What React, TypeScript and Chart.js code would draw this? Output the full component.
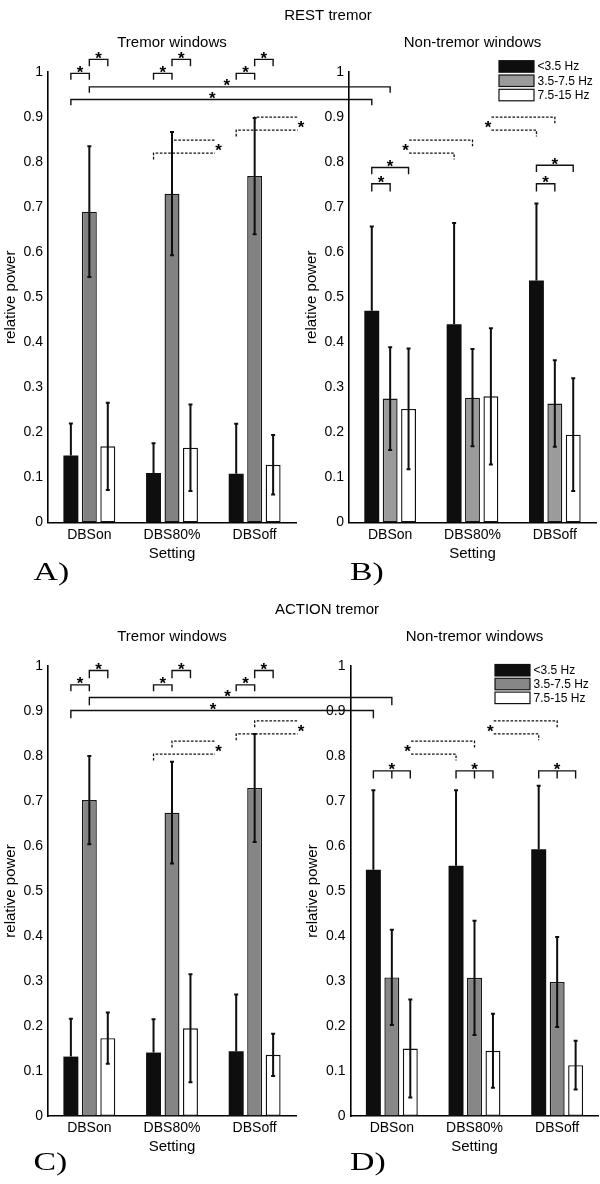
import React, { useEffect, useRef } from "react";
import { Chart, registerables } from "chart.js";

Chart.register(...registerables);

const FONT = '"Liberation Sans", Arial, Helvetica, sans-serif';
const SERIF = '"Liberation Serif", "Times New Roman", serif';

// ---------------- data ----------------
const categories = ["DBSon", "DBS80%", "DBSoff"];
const bandLabels = ["<3.5 Hz", "3.5-7.5 Hz", "7.5-15 Hz"];
const yTickValues = [0, 0.1, 0.2, 0.3, 0.4, 0.5, 0.6, 0.7, 0.8, 0.9, 1];
const yTickLabels = ["0", "0.1", "0.2", "0.3", "0.4", "0.5", "0.6", "0.7", "0.8", "0.9", "1"];

// A) REST tremor - tremor windows
const restTremorLow = [0.149, 0.11, 0.108];
const restTremorLowSd = [0.071, 0.066, 0.111];
const restTremorMid = [0.69, 0.73, 0.769];
const restTremorMidSd = [0.145, 0.137, 0.129];
const restTremorHigh = [0.169, 0.166, 0.128];
const restTremorHighSd = [0.097, 0.096, 0.066];

// B) REST tremor - non-tremor windows
const restNonTremorLow = [0.47, 0.44, 0.537];
const restNonTremorLowSd = [0.187, 0.225, 0.171];
const restNonTremorMid = [0.275, 0.277, 0.264];
const restNonTremorMidSd = [0.114, 0.108, 0.096];
const restNonTremorHigh = [0.252, 0.28, 0.195];
const restNonTremorHighSd = [0.134, 0.151, 0.125];

// C) ACTION tremor - tremor windows
const actionTremorLow = [0.132, 0.141, 0.144];
const actionTremorLowSd = [0.084, 0.074, 0.126];
const actionTremorMid = [0.702, 0.674, 0.729];
const actionTremorMidSd = [0.098, 0.113, 0.12];
const actionTremorHigh = [0.173, 0.195, 0.136];
const actionTremorHighSd = [0.057, 0.12, 0.047];

// D) ACTION tremor - non-tremor windows
const actionNonTremorLow = [0.547, 0.556, 0.593];
const actionNonTremorLowSd = [0.177, 0.168, 0.141];
const actionNonTremorMid = [0.308, 0.307, 0.298];
const actionNonTremorMidSd = [0.106, 0.127, 0.1];
const actionNonTremorHigh = [0.15, 0.145, 0.113];
const actionNonTremorHighSd = [0.109, 0.082, 0.054];

// significance markers (side 0 = left panel, 1 = right panel; ds = band; cat = setting)
const L = (ds: number, cat: number) => ({ side: 0, ds, cat });
const R = (ds: number, cat: number) => ({ side: 1, ds, cat });

const restSig: any[] = [
  ...[0, 1, 2].flatMap((c) => [
    { kind: "bracket", a: L(0, c), b: L(1, c), top: 0.997, drop: 0.983 },
    { kind: "bracket", a: L(1, c), b: L(2, c), top: 1.028, drop: 1.013 },
  ]),
  { kind: "bracket", a: L(1, 0), b: R(1, 0), top: 0.967, drop: 0.954, starDx: -13 },
  { kind: "bracket", a: L(0, 0), b: R(0, 0), top: 0.939, drop: 0.926, starDx: -9 },
  { kind: "bracket", a: R(0, 0), b: R(1, 0), top: 0.752, drop: 0.735 },
  { kind: "bracket", a: R(0, 0), b: R(2, 0), top: 0.788, drop: 0.773 },
  { kind: "bracket", a: R(0, 2), b: R(1, 2), top: 0.752, drop: 0.735 },
  { kind: "bracket", a: R(0, 2), b: R(2, 2), top: 0.793, drop: 0.778 },
  { kind: "broken", cat: 1, upper: 0.849, lower: 0.82 },
  { kind: "broken", cat: 2, upper: 0.9, lower: 0.871 },
];

const actionSig: any[] = [
  ...[0, 1, 2].flatMap((c) => [
    { kind: "bracket", a: L(0, c), b: L(1, c), top: 0.958, drop: 0.944 },
    { kind: "bracket", a: L(1, c), b: L(2, c), top: 0.99, drop: 0.973 },
  ]),
  { kind: "bracket", a: L(1, 0), b: R(1, 0), top: 0.93, drop: 0.913, starDx: -13 },
  { kind: "bracket", a: L(0, 0), b: R(0, 0), top: 0.901, drop: 0.884, starDx: -9 },
  ...[0, 1, 2].map((c) => ({ kind: "bracket", a: R(0, c), mid: R(1, c), b: R(2, c), top: 0.767, drop: 0.75 })),
  { kind: "broken", cat: 1, upper: 0.833, lower: 0.804 },
  { kind: "broken", cat: 2, upper: 0.878, lower: 0.849 },
];

// ---------------- drawing helpers ----------------
function drawStar(ctx: CanvasRenderingContext2D, x: number, y: number) {
  ctx.save();
  ctx.fillStyle = "#000";
  ctx.font = `bold 17px ${FONT}`;
  ctx.textAlign = "center";
  ctx.textBaseline = "alphabetic";
  ctx.fillText("*", x, y + 9.8);
  ctx.restore();
}

function drawSignificance(chart: any, partner: any, sig: any[]) {
  const ctx: CanvasRenderingContext2D = chart.ctx;
  const ys = chart.scales.y;
  const py = (v: number) => ys.getPixelForValue(v);
  const px = (r: any) => {
    const c = r.side === 0 ? partner : chart;
    return c.getDatasetMeta(r.ds).data[r.cat].x;
  };
  ctx.save();
  ctx.lineCap = "butt";
  for (const s of sig) {
    if (s.kind === "bracket") {
      const xa = px(s.a);
      const xb = px(s.b);
      const yt = py(s.top);
      const yd = py(s.drop);
      ctx.strokeStyle = "#111";
      ctx.lineWidth = 1.4;
      ctx.setLineDash([]);
      ctx.beginPath();
      ctx.moveTo(xa, yd);
      ctx.lineTo(xa, yt);
      ctx.lineTo(xb, yt);
      ctx.lineTo(xb, yd);
      if (s.mid) {
        const xm = px(s.mid);
        ctx.moveTo(xm, yt);
        ctx.lineTo(xm, yd);
      }
      ctx.stroke();
      const sx = s.mid ? px(s.mid) : (xa + xb) / 2 + (s.starDx || 0);
      drawStar(ctx, sx, yt - 5.5);
    } else if (s.kind === "broken") {
      const lGray = partner.getDatasetMeta(1).data[s.cat].x;
      const lBlack = partner.getDatasetMeta(0).data[s.cat].x;
      const rGray = chart.getDatasetMeta(1).data[s.cat].x;
      const rBlack = chart.getDatasetMeta(0).data[s.cat].x;
      const endA = lGray + 43;
      const startB = rBlack - 45;
      const yu = py(s.upper);
      const yl = py(s.lower);
      const leg = 6.3;
      ctx.strokeStyle = "#111";
      ctx.lineWidth = 1.3;
      ctx.setLineDash([2.6, 1.6]);
      ctx.beginPath();
      // left panel parts
      ctx.moveTo(lGray, yu + leg);
      ctx.lineTo(lGray, yu);
      ctx.lineTo(endA, yu);
      ctx.moveTo(lBlack, yl + leg);
      ctx.lineTo(lBlack, yl);
      ctx.lineTo(endA, yl);
      // right panel parts
      ctx.moveTo(startB, yu);
      ctx.lineTo(rGray, yu);
      ctx.lineTo(rGray, yu + leg);
      ctx.moveTo(startB, yl);
      ctx.lineTo(rBlack, yl);
      ctx.lineTo(rBlack, yl + leg);
      ctx.stroke();
      ctx.setLineDash([]);
      drawStar(ctx, endA + 3.5, (yu + yl) / 2);
      drawStar(ctx, startB - 3.5, (yu + yl) / 2);
    }
  }
  ctx.restore();
}

function buildConfig(p: any, partner: any, sig: any[] | null) {
  const colors = ["#0e0e0e", p.gray, "#ffffff"];
  const borders = ["#0e0e0e", "#151515", "#111111"];
  const borderWidths = [0, 1.4, 1.4];
  const datasets = p.means.map((m: number[], i: number) => ({
    label: bandLabels[i],
    data: m,
    errors: p.sds[i],
    backgroundColor: colors[i],
    borderColor: borders[i],
    borderWidth: borderWidths[i],
    borderSkipped: false,
    categoryPercentage: 0.67,
    barPercentage: 0.81,
  }));

  const decor = {
    id: "decor",
    afterDatasetsDraw(chart: any) {
      const ctx: CanvasRenderingContext2D = chart.ctx;
      const ys = chart.scales.y;
      ctx.save();
      ctx.strokeStyle = "#0e0e0e";
      ctx.lineWidth = 2;
      chart.data.datasets.forEach((ds: any, i: number) => {
        const meta = chart.getDatasetMeta(i);
        meta.data.forEach((bar: any, j: number) => {
          const m = ds.data[j];
          const e = ds.errors[j];
          const x = bar.x;
          const yHi = ys.getPixelForValue(m + e);
          // the lower half of the black bars' error bar is hidden inside the bar
          const yLo = i === 0 ? ys.getPixelForValue(m) : ys.getPixelForValue(m - e);
          ctx.beginPath();
          ctx.moveTo(x, yLo);
          ctx.lineTo(x, yHi);
          ctx.moveTo(x - 2, yHi);
          ctx.lineTo(x + 2, yHi);
          if (i !== 0) {
            ctx.moveTo(x - 2, yLo);
            ctx.lineTo(x + 2, yLo);
          }
          ctx.stroke();
        });
      });
      ctx.restore();
    },
    afterDraw(chart: any) {
      const ctx: CanvasRenderingContext2D = chart.ctx;
      const area = chart.chartArea;
      ctx.save();
      ctx.fillStyle = "#000";
      // panel title
      ctx.font = `15px ${FONT}`;
      ctx.textAlign = "center";
      ctx.textBaseline = "alphabetic";
      ctx.fillText(p.title, (area.left + area.right) / 2, p.titleBaseline);
      // figure title
      if (p.figTitle) {
        ctx.fillText(p.figTitle, p.figTitleX, p.figTitleBaseline);
      }
      // panel letter
      ctx.save();
      ctx.translate(p.letterX, p.letterBaseline);
      ctx.scale(1.3, 1);
      ctx.font = `26px ${SERIF}`;
      ctx.textAlign = "left";
      ctx.fillText(p.letter, 0, 0);
      ctx.restore();
      // legend
      if (p.legend) {
        const { x, y, step } = p.legend;
        ctx.font = `12px ${FONT}`;
        ctx.textAlign = "left";
        ctx.textBaseline = "middle";
        chart.data.datasets.forEach((ds: any, i: number) => {
          const ty = y + i * step;
          ctx.fillStyle = ds.backgroundColor;
          ctx.fillRect(x, ty, 35, 11.5);
          ctx.strokeStyle = "#111";
          ctx.lineWidth = 1.2;
          ctx.strokeRect(x, ty, 35, 11.5);
          ctx.fillStyle = "#000";
          ctx.fillText(ds.label, x + 38.5, ty + 6.2);
        });
      }
      ctx.restore();
      if (sig && partner) drawSignificance(chart, partner, sig);
    },
  };

  return {
    type: "bar",
    data: { labels: categories, datasets },
    options: {
      responsive: false,
      animation: false,
      events: [],
      layout: { padding: { left: p.padLeft, right: p.padRight, top: 72, bottom: p.padBottom } },
      plugins: {
        legend: { display: false },
        title: { display: false },
        tooltip: { enabled: false },
      },
      scales: {
        x: {
          grid: { display: false, drawTicks: false, tickLength: 0 },
          border: { display: true, color: "#000", width: 1.6 },
          ticks: { color: "#000", font: { family: FONT, size: 14 }, padding: 4, maxRotation: 0, autoSkip: false },
          title: {
            display: true,
            text: "Setting",
            color: "#000",
            font: { family: FONT, size: 15 },
            padding: { top: 0, bottom: 10 },
          },
          afterFit: (s: any) => {
            s.height = 50;
          },
        },
        y: {
          min: 0,
          max: 1,
          grid: { display: false, drawTicks: false, tickLength: 0 },
          border: { display: true, color: "#000", width: 1.6 },
          afterBuildTicks: (s: any) => {
            s.ticks = yTickValues.map((v) => ({ value: v }));
          },
          ticks: {
            color: "#000",
            font: { family: FONT, size: 14 },
            padding: 5,
            callback: (v: any) => {
              const k = yTickValues.indexOf(Number(v));
              return k >= 0 ? yTickLabels[k] : "";
            },
          },
          title: {
            display: true,
            text: "relative power",
            color: "#000",
            font: { family: FONT, size: 15 },
            padding: { top: 1.5, bottom: 0 },
          },
          afterFit: (s: any) => {
            s.width = 48;
          },
        },
      },
    },
    plugins: [decor],
  };
}

function FigureHalf({ height, left, right, sig }: any) {
  const lRef = useRef<HTMLCanvasElement>(null);
  const rRef = useRef<HTMLCanvasElement>(null);
  useEffect(() => {
    const leftChart = new Chart(lRef.current as any, buildConfig(left, null, null) as any);
    const rightChart = new Chart(rRef.current as any, buildConfig(right, leftChart, sig) as any);
    return () => {
      rightChart.destroy();
      leftChart.destroy();
    };
  }, []);
  const cs: any = { position: "absolute", left: 0, top: 0 };
  return (
    <div style={{ position: "relative", width: 600, height }}>
      <canvas ref={lRef} width={600} height={height} style={cs} />
      <canvas ref={rRef} width={600} height={height} style={cs} />
    </div>
  );
}

const panelA = {
  title: "Tremor windows",
  titleBaseline: 46.5,
  figTitle: "REST tremor",
  figTitleX: 328,
  figTitleBaseline: 20,
  letter: "A)",
  letterX: 33.5,
  letterBaseline: 580,
  means: [restTremorLow, restTremorMid, restTremorHigh],
  sds: [restTremorLowSd, restTremorMidSd, restTremorHighSd],
  gray: "#828282",
  padLeft: 0,
  padRight: 304,
  padBottom: 21.5,
};
const panelB = {
  title: "Non-tremor windows",
  titleBaseline: 46.5,
  letter: "B)",
  letterX: 350,
  letterBaseline: 580,
  means: [restNonTremorLow, restNonTremorMid, restNonTremorHigh],
  sds: [restNonTremorLowSd, restNonTremorMidSd, restNonTremorHighSd],
  gray: "#9b9b9b",
  padLeft: 301,
  padRight: 4,
  padBottom: 21.5,
  legend: { x: 499, y: 60.7, step: 14.3 },
};
const panelC = {
  title: "Tremor windows",
  titleBaseline: 46.5,
  figTitle: "ACTION tremor",
  figTitleX: 327,
  figTitleBaseline: 20,
  letter: "C)",
  letterX: 33.5,
  letterBaseline: 576,
  means: [actionTremorLow, actionTremorMid, actionTremorHigh],
  sds: [actionTremorLowSd, actionTremorMidSd, actionTremorHighSd],
  gray: "#858585",
  padLeft: 0,
  padRight: 304,
  padBottom: 18,
};
const panelD = {
  title: "Non-tremor windows",
  titleBaseline: 46.5,
  letter: "D)",
  letterX: 350,
  letterBaseline: 576,
  means: [actionNonTremorLow, actionNonTremorMid, actionNonTremorHigh],
  sds: [actionNonTremorLowSd, actionNonTremorMidSd, actionNonTremorHighSd],
  gray: "#878787",
  padLeft: 302.5,
  padRight: 1.5,
  padBottom: 18,
  legend: { x: 495, y: 70.5, step: 13.8 },
};

export default function App() {
  return (
    <div style={{ position: "absolute", left: 0, top: 0, width: 600, height: 1184, background: "#fff" }}>
      <FigureHalf height={594} left={panelA} right={panelB} sig={restSig} />
      <FigureHalf height={590} left={panelC} right={panelD} sig={actionSig} />
    </div>
  );
}
